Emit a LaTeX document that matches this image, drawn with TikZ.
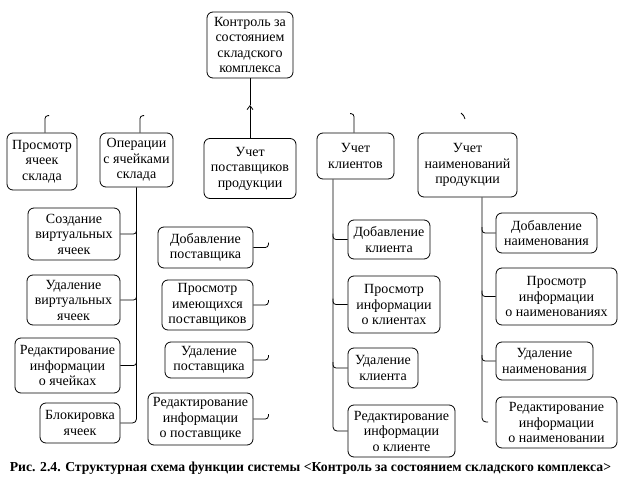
\documentclass[tikz,border=0pt]{standalone}
\usepackage{fontspec}
\setmainfont{Liberation Serif}
\usetikzlibrary{calc,arrows.meta}
\begin{document}
\begin{tikzpicture}[x=1pt,y=-1pt,
  box/.style={draw, rounded corners=6pt, line width=0.8pt, align=center, inner sep=1pt,
    font=\fontsize{14}{15.5}\selectfont},
  conn/.style={line width=0.8pt, rounded corners=4pt}]
\useasboundingbox (0,0) rectangle (624,495);
% top
\node[box, minimum width=86, minimum height=66] (top) at (250,45) {Контроль за\\состоянием\\складского\\комплекса};
% level 2
\node[box, minimum width=70, minimum height=57] (vp) at (42,161.5) {Просмотр\\ячеек\\склада};
\node[box, minimum width=73, minimum height=54] (op) at (136.5,160) {Операции\\с ячейками\\склада};
\node[box, minimum width=92, minimum height=60] (sup) at (250,168.5) {Учет\\поставщиков\\продукции};
\node[box, minimum width=77, minimum height=46] (cl) at (355.5,156) {Учет\\клиентов};
\node[box, minimum width=99, minimum height=64] (nm) at (467.5,165) {Учет\\наименований\\продукции};
% cells
\node[box, minimum width=92, minimum height=52] (c1) at (74,234) {Создание\\виртуальных\\ячеек};
\node[box, minimum width=93, minimum height=50] (c2) at (73.5,300) {Удаление\\виртуальных\\ячеек};
\node[box, minimum width=105, minimum height=55] (c3) at (67.5,365.5) {Редактирование\\информации\\о ячейках};
\node[box, minimum width=80, minimum height=40] (c4) at (80,423) {Блокировка\\ячеек};
% suppliers
\node[box, minimum width=95, minimum height=41] (s1) at (205.5,247.5) {Добавление\\поставщика};
\node[box, minimum width=91, minimum height=50] (s2) at (207.5,305) {Просмотр\\имеющихся\\поставщиков};
\node[box, minimum width=88, minimum height=36] (s3) at (209,360) {Удаление\\поставщика};
\node[box, minimum width=105, minimum height=52] (s4) at (200.5,419) {Редактирование\\информации\\о поставщике};
% clients
\node[box, minimum width=82, minimum height=39] (k1) at (389,239.5) {Добавление\\клиента};
\node[box, minimum width=92, minimum height=57] (k2) at (394,304.5) {Просмотр\\информации\\о клиентах};
\node[box, minimum width=70, minimum height=40] (k3) at (383,368) {Удаление\\клиента};
\node[box, minimum width=107, minimum height=52] (k4) at (401.5,431) {Редактирование\\информации\\о клиенте};
% names
\node[box, minimum width=101, minimum height=40] (n1) at (546.5,233) {Добавление\\наименования};
\node[box, minimum width=121, minimum height=57] (n2) at (556.5,296.5) {Просмотр\\информации\\о наименованиях};
\node[box, minimum width=97, minimum height=38] (n3) at (544.5,361) {Удаление\\наименования};
\node[box, minimum width=121, minimum height=51] (n4) at (556.5,422.5) {Редактирование\\информации\\о наименовании};
% caption
\node[font=\bfseries\fontsize{13.7}{15}\selectfont, inner sep=0pt] (cap) at (310.5,468) {Рис. 2.4. Структурная схема функции системы <Контроль за состоянием складского комплекса>};
% top connector with arrow
\coordinate (arr) at (250,105);
\draw[conn, -{Straight Barb[length=4pt,width=6pt]}] (sup.north) -- (arr);
\draw[conn] (arr) -- (top.south);
% stubs
\draw[conn, rounded corners=3pt] ($(vp.north)+(3,0)$) -- ++(0,-17) -- ++(4,0);
\draw[conn, rounded corners=3pt] ($(op.north)+(3.5,0)$) -- ++(0,-17) -- ++(4,0);
\draw[conn, rounded corners=3pt] ($(cl.north)+(-1.5,0)$) -- ++(0,-19) -- ++(-4,0);
\coordinate (nmst) at (465,119);
\draw[conn] (nmst) to[bend right=20] ++(-4,-6);
% left bus
\coordinate (lb) at (136.5,0);
\draw[conn] (op.south) |- (c4.east);
\foreach \c in {c1,c2,c3}{\draw[conn, rounded corners=3pt] (\c.east) -| ($(lb |- \c.east)+(0,-6)$);}
% supplier connectors
\foreach \c in {s1,s2,s3,s4}{\draw[conn, rounded corners=3pt] (\c.east) -| ($(\c.east)+(15,-5)$);}
% client bus
\coordinate (kb) at (333,0);
\draw[conn] (kb |- cl.south) |- (k4.west);
\foreach \c in {k1,k2,k3}{\draw[conn, rounded corners=3pt] (\c.west) -| ($(kb |- \c.west)+(0,-6)$);}
% names bus
\coordinate (nb) at (482,0);
\coordinate (nbend) at (488,422);
\draw[conn] (nb |- nm.south) |- (nbend);
\foreach \c in {n1,n2,n3}{\draw[conn, rounded corners=3pt] (\c.west) -| ($(nb |- \c.west)+(0,-6)$);}
\end{tikzpicture}
\end{document}
